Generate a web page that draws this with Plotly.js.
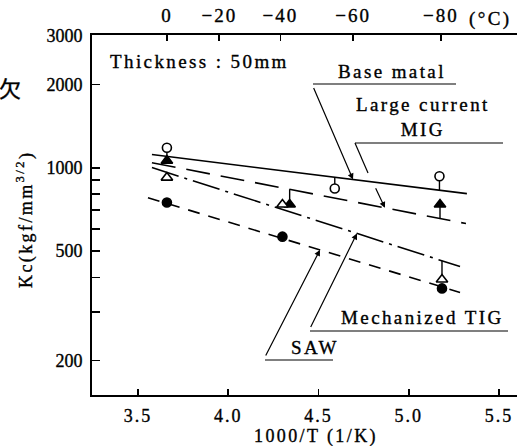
<!DOCTYPE html>
<html>
<head>
<meta charset="utf-8">
<script src="https://cdn.plot.ly/plotly-3.0.1.min.js"></script>
<style>
  html, body { margin: 0; padding: 0; background: #fff; }
  #chart { width: 517px; height: 446px; }
  .annotation-text { letter-spacing: 2.4px; }
  .xtick text, .x2tick text { letter-spacing: 2px; }
  .annotation-text, .xtick text, .x2tick text, .ytick text { stroke: #000; stroke-width: 0.35px; }
</style>
</head>
<body>
<div id="chart"></div>
<script>
// ---------- data ----------
const tempC = [0, -20, -40, -60, -80];
const tempLabels = ['0', '\u221220', '\u221240', '\u221260', '\u221280'];
const xTickVals = [3.5, 4.0, 4.5, 5.0, 5.5];
const xTickText = ['3.5', '4.0', '4.5', '5.0', '5.5'];
const yTickVals = [200, 300, 400, 500, 600, 700, 800, 900, 1000, 2000, 3000];
const yTickText = ['200', '', '', '500', '', '', '', '', '1000', '2000', '3000'];

// Base metal (open circles, solid line)
const baseX = [3.66, 4.59, 5.17];
const baseY = [1180, 840, 930];
const baseLineX = [3.577, 5.322];
const baseLineY = [1115, 805];

// Large current MIG (filled triangles, long dash)
const migX = [3.66, 4.34, 5.173];
const migY = [1060, 735, 735];
const migLineX = [3.577, 5.317];
const migLineY = [1042, 627];

// Mechanized TIG (open triangles, dash-dot)
const tigX = [3.66, 4.30, 5.184];
const tigY = [920, 735, 393];
const tigLineX = [3.577, 5.284];
const tigLineY = [1000, 438];

// SAW (filled circles, short dash)
const sawX = [3.66, 4.30, 5.184];
const sawY = [747, 562, 365];
const sawLineX = [3.555, 5.284];
const sawLineY = [778, 353];

// ---------- helpers ----------
const L = 92, R = 0, T = 35, B = 51, W = 517, H = 446;
const PW = W - L - R, PH = H - T - B;
const px = v => (v - L) / PW;          // pixel x -> paper
const py = v => (H - B - v) / PH;      // pixel y -> paper
const FONT = 'Liberation Serif, Times New Roman, serif';

function lineLog(xs, ys, x) {
  const t = (x - xs[0]) / (xs[1] - xs[0]);
  return Math.log10(ys[0]) + t * (Math.log10(ys[1]) - Math.log10(ys[0]));
}
function stems(xs, ys, lx, ly) {
  const sx = [], sy = [];
  xs.forEach((x, i) => {
    const l = lineLog(lx, ly, x);
    if (Math.abs(Math.log10(ys[i]) - l) > 0.02) {
      sx.push(x, x, null);
      sy.push(ys[i], Math.pow(10, l), null);
    }
  });
  return {sx, sy};
}

const series = [
  {x: baseX, y: baseY, lx: baseLineX, ly: baseLineY, dash: 'solid', sym: 'circle', fill: '#fff', size: 9},
  {x: migX, y: migY, lx: migLineX, ly: migLineY, dash: '24px,11px', sym: 'triangle-up', fill: '#000', size: 10},
  {x: tigX, y: tigY, lx: tigLineX, ly: tigLineY, dash: '28px,6px,3px,6px', sym: 'triangle-up', fill: '#fff', size: 10},
  {x: sawX, y: sawY, lx: sawLineX, ly: sawLineY, dash: '12px,9px', sym: 'circle', fill: '#000', size: 9}
];

const traces = [];
series.forEach(s => {
  traces.push({x: s.lx, y: s.ly, mode: 'lines', line: {color: '#000', width: 1.6, dash: s.dash}, hoverinfo: 'skip'});
});
series.forEach(s => {
  const st = stems(s.x, s.y, s.lx, s.ly);
  traces.push({x: st.sx, y: st.sy, mode: 'lines', line: {color: '#000', width: 1.4}, hoverinfo: 'skip', connectgaps: false});
});
series.forEach(s => {
  traces.push({x: s.x, y: s.y, mode: 'markers', cliponaxis: false,
    marker: {symbol: s.sym, size: s.size, color: s.fill, line: {color: '#000', width: 1.6}}});
});
// invisible trace to anchor the top (temperature) axis
traces.push({x: baseX, y: baseY, xaxis: 'x2', mode: 'markers', marker: {opacity: 0}, hoverinfo: 'skip'});

// ---------- annotations ----------
const txt = (text, x, y, opts = {}) => Object.assign({
  text, xref: 'paper', yref: 'paper', x: px(x), y: py(y), showarrow: false,
  font: {family: FONT, size: 19, color: '#000'}, xanchor: 'center', yanchor: 'middle'
}, opts);

function arrow(xs, ys, x, ax, ay) {
  return {xref: 'x', yref: 'y', x: x, y: lineLog(xs, ys, x), ax: ax, ay: ay,
    text: '', showarrow: true, arrowhead: 2, arrowsize: 1, arrowwidth: 1.2, arrowcolor: '#000', standoff: 0};
}

const annotations = [
  txt('Thickness : 50mm', 108, 62, {xanchor: 'left'}),
  txt('Base matal', 392, 71),
  txt('Large current<br>MIG', 423, 117),
  txt('Mechanized TIG', 422, 317),
  txt('SAW', 315, 347),
  txt('(\u00b0C)', 490, 19, {font: {family: FONT, size: 19, color: '#000'}}),
  txt('1000/T (1/K)', 316, 436, {font: {family: FONT, size: 18, color: '#000'}}),
  txt('Kc(kgf/mm<sup>3/2</sup>)', 25, 220, {textangle: -90, font: {family: FONT, size: 18, color: '#000'}}),
  txt('\u6b20', 11, 87, {font: {family: 'Noto Sans CJK JP, sans-serif', size: 22, color: '#000'}}),
  arrow(baseLineX, baseLineY, 4.691, -40, -93),
  arrow(migLineX, migLineY, 4.868, -10, -21),
  arrow(sawLineX, sawLineY, 4.508, -55, 107),
  arrow(tigLineX, tigLineY, 4.713, -47, 95)
];

const seg = (x0, y0, x1, y1) => ({type: 'line', xref: 'paper', yref: 'paper',
  x0: px(x0), y0: py(y0), x1: px(x1), y1: py(y1), line: {color: '#000', width: 1.2}});
const shapes = [
  seg(313, 84, 456, 84),
  seg(355, 143, 503, 143),
  seg(355, 143, 368, 173),
  seg(310, 331, 508, 331),
  seg(265, 360, 333, 360)
];

const xRange = [3.245, 3.245 + PW / 180.5];
const yRange = [Math.log10(150), Math.log10(150) + PH / 276];

const layout = {
  width: W, height: H,
  margin: {l: L, r: R, t: T, b: B},
  paper_bgcolor: '#fff', plot_bgcolor: '#fff',
  showlegend: false,
  font: {family: FONT, size: 18, color: '#000'},
  xaxis: {
    range: xRange, showgrid: false, zeroline: false, showline: true, linecolor: '#000', linewidth: 1.8,
    ticks: 'inside', ticklen: 6, tickwidth: 1.8, tickcolor: '#000',
    tickvals: xTickVals, ticktext: xTickText, ticklabelstandoff: 4,
    tickfont: {family: FONT, size: 18, color: '#000'}
  },
  xaxis2: {
    overlaying: 'x', side: 'top', anchor: 'y', range: xRange, showgrid: false, zeroline: false,
    showline: true, linecolor: '#000', linewidth: 1.6,
    ticks: 'inside', ticklen: 6, tickwidth: 1.6, tickcolor: '#000',
    tickvals: tempC.map(t => 1000 / (273.15 + t)), ticktext: tempLabels, ticklabelstandoff: 4,
    tickfont: {family: FONT, size: 19, color: '#000'}
  },
  yaxis: {
    type: 'log', range: yRange, showgrid: false, zeroline: false, showline: true, linecolor: '#000', linewidth: 1.8,
    ticks: 'inside', ticklen: 8, tickwidth: 1.8, tickcolor: '#000',
    tickvals: yTickVals, ticktext: yTickText, ticklabelstandoff: 4,
    tickfont: {family: FONT, size: 18, color: '#000'}
  },
  annotations: annotations,
  shapes: shapes
};

Plotly.newPlot('chart', traces, layout, {staticPlot: true, displayModeBar: false});
</script>
</body>
</html>
